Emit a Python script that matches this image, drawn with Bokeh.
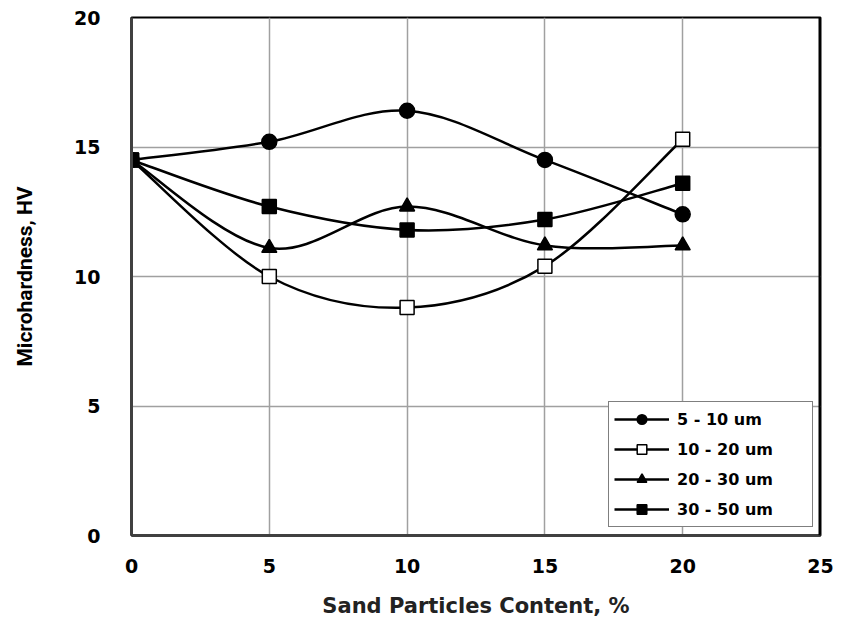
from bokeh.plotting import figure
from bokeh.models import Range1d, FixedTicker, Legend, LegendItem, Span
from bokeh.embed import file_html
from bokeh.resources import INLINE

# ---- data ----
x_content = [0, 5, 10, 15, 20]
hv_5_10 = [14.5, 15.2, 16.4, 14.5, 12.4]
hv_10_20 = [14.5, 10.0, 8.8, 10.4, 15.3]
hv_20_30 = [14.5, 11.1, 12.7, 11.2, 11.2]
hv_30_50 = [14.5, 12.7, 11.8, 12.2, 13.6]
series_labels = ["5 - 10 um", "10 - 20 um", "20 - 30 um", "30 - 50 um"]
x_ticks = [0, 5, 10, 15, 20, 25]
y_ticks = [0, 5, 10, 15, 20]


def smooth_segments(xs, ys, t=1.0 / 6.0):
    """Bezier control points (Catmull-Rom style smoothing, like Excel smoothed lines)."""
    n = len(xs)
    seg = dict(x0=[], y0=[], x1=[], y1=[], cx0=[], cy0=[], cx1=[], cy1=[])
    for i in range(n - 1):
        xp, yp = (xs[i - 1], ys[i - 1]) if i > 0 else (xs[i], ys[i])
        xn, yn = (xs[i + 2], ys[i + 2]) if i + 2 < n else (xs[i + 1], ys[i + 1])
        seg["x0"].append(xs[i])
        seg["y0"].append(ys[i])
        seg["x1"].append(xs[i + 1])
        seg["y1"].append(ys[i + 1])
        seg["cx0"].append(xs[i] + (xs[i + 1] - xp) * t)
        seg["cy0"].append(ys[i] + (ys[i + 1] - yp) * t)
        seg["cx1"].append(xs[i + 1] - (xn - xs[i]) * t)
        seg["cy1"].append(ys[i + 1] - (yn - ys[i]) * t)
    return seg


p = figure(width=841, height=621, output_backend="svg", toolbar_location=None,
           x_range=Range1d(0, 25), y_range=Range1d(0, 20),
           min_border_left=131, min_border_right=21, min_border_top=17,
           min_border_bottom=86)
p.background_fill_color = "white"
p.border_fill_color = "white"
p.outline_line_color = "black"
p.outline_line_width = 2

# grid
p.xgrid.ticker = FixedTicker(ticks=x_ticks)
p.ygrid.ticker = FixedTicker(ticks=y_ticks)
for g in (p.xgrid, p.ygrid):
    g.grid_line_color = "#a0a0a0"
    g.grid_line_width = 1.5

# axes
p.xaxis.ticker = FixedTicker(ticks=x_ticks)
p.yaxis.ticker = FixedTicker(ticks=y_ticks)
for ax in (p.xaxis, p.yaxis):
    ax.axis_line_color = "#404040"
    ax.axis_line_width = 3
    ax.major_tick_line_color = None
    ax.minor_tick_line_color = None
    ax.major_tick_out = 0
    ax.major_tick_in = 0
    ax.major_label_text_font = "DejaVu Sans"
    ax.major_label_text_font_style = "bold"
    ax.major_label_text_font_size = "19px"
    ax.major_label_text_color = "black"

p.xaxis.major_label_standoff = 23
p.yaxis.major_label_standoff = 31
p.xaxis.axis_label = "Sand Particles Content, %"
p.xaxis.axis_label_text_font = "DejaVu Sans"
p.xaxis.axis_label_text_font_style = "bold"
p.xaxis.axis_label_text_font_size = "21px"
p.xaxis.axis_label_text_color = "#222222"
p.xaxis.axis_label_standoff = 18
p.yaxis.axis_label = "Microhardness, HV"
p.yaxis.axis_label_text_font = "Roboto"
p.yaxis.axis_label_text_font_style = "bold"
p.yaxis.axis_label_text_font_size = "21px"
p.yaxis.axis_label_text_color = "black"
p.yaxis.axis_label_standoff = 34

# thick right border
p.add_layout(Span(location=25, dimension="height", line_color="black", line_width=4))

series = [hv_5_10, hv_10_20, hv_20_30, hv_30_50]
markers = ["circle", "square", "triangle", "square"]
fills = ["black", "white", "black", "black"]
sizes = [15, 14, 15, 14]

items = []
for ys, mk, fc, sz, lab in zip(series, markers, fills, sizes, series_labels):
    seg = smooth_segments(x_content, ys)
    br = p.bezier(x0=seg["x0"], y0=seg["y0"], x1=seg["x1"], y1=seg["y1"],
                  cx0=seg["cx0"], cy0=seg["cy0"], cx1=seg["cx1"], cy1=seg["cy1"],
                  line_color="black", line_width=2.5)
    items.append([lab, br, mk, fc, sz, ys])

scatter_rs = []
for lab, br, mk, fc, sz, ys in items:
    sr = p.scatter(x_content, ys, marker=mk, size=sz, fill_color=fc,
                   line_color="black", line_width=1.5)
    scatter_rs.append(sr)

legend = Legend(items=[LegendItem(label=it[0], renderers=[it[1], sr])
                       for it, sr in zip(items, scatter_rs)],
                location=(477, 8))
legend.border_line_color = "black"
legend.border_line_width = 1.5
legend.background_fill_color = "white"
legend.background_fill_alpha = 1
legend.label_text_font = "DejaVu Sans"
legend.label_text_font_style = "bold"
legend.label_text_font_size = "16px"
legend.label_text_color = "black"
legend.glyph_width = 55
legend.glyph_height = 24
legend.label_height = 24
legend.spacing = 6
legend.padding = 5
legend.margin = 0
legend.label_standoff = 8
legend.label_width = 130
p.add_layout(legend, "center")

open("out.html", "w").write(file_html(p, INLINE))
